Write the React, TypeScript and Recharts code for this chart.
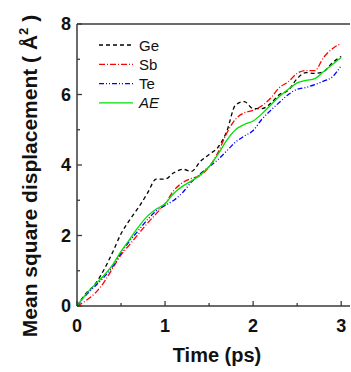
import React from "react";
import { LineChart, Line, XAxis, YAxis, ReferenceLine } from "recharts";

const times = [0, 0.1, 0.2, 0.3, 0.4, 0.5, 0.6, 0.7, 0.8, 0.9, 1.0, 1.1, 1.2, 1.3, 1.4, 1.5, 1.6, 1.7, 1.8, 1.9, 2.0, 2.1, 2.2, 2.3, 2.4, 2.5, 2.6, 2.7, 2.8, 2.9, 3.0];
const ge = [0, 0.35, 0.6, 1.0, 1.5, 2.05, 2.45, 2.8, 3.2, 3.6, 3.6, 3.78, 3.88, 3.82, 4.1, 4.3, 4.5, 4.95, 5.7, 5.8, 5.6, 5.6, 5.75, 6.0, 6.12, 6.45, 6.62, 6.6, 6.65, 6.9, 7.08];
const sb = [0, 0.15, 0.35, 0.65, 1.05, 1.45, 1.75, 2.05, 2.35, 2.62, 2.9, 3.28, 3.5, 3.62, 3.7, 3.95, 4.35, 4.9, 5.3, 5.48, 5.55, 5.68, 5.9, 6.2, 6.36, 6.6, 6.68, 6.68, 7.05, 7.3, 7.45];
const te = [0, 0.3, 0.55, 0.8, 1.1, 1.5, 1.85, 2.15, 2.45, 2.7, 2.85, 3.0, 3.22, 3.52, 3.75, 3.95, 4.15, 4.4, 4.65, 4.82, 4.98, 5.3, 5.55, 5.78, 6.0, 6.15, 6.2, 6.28, 6.38, 6.5, 6.82];
const ae = [0, 0.33, 0.6, 0.85, 1.15, 1.55, 1.9, 2.25, 2.55, 2.75, 2.9, 3.2, 3.4, 3.55, 3.72, 3.95, 4.3, 4.7, 5.0, 5.15, 5.25, 5.45, 5.7, 5.95, 6.15, 6.33, 6.4, 6.45, 6.65, 6.85, 7.05];

const xTicks = [0, 0.5, 1, 1.5, 2, 2.5, 3];
const yTicks = [0, 1, 2, 3, 4, 5, 6, 7, 8];

const seriesNames = ["Ge", "Sb", "Te", "AE"];
const seriesColors = ["#000000", "#ff0000", "#0000ff", "#00e000"];
const seriesDash = ["4 3", "6 2 1 2", "5 2 1 2 1 2", ""];

const data = times.map((t, i) => ({ t, Ge: ge[i], Sb: sb[i], Te: te[i], AE: ae[i] }));

const FONT = "Arial, 'Liberation Sans', sans-serif";
const AXIS = "#3a3a3a";

const YTick = (props: any) => {
  const { x, y, payload } = props;
  const major = payload.value % 2 === 0;
  return (
    <g>
      <line x1={x} x2={x + (major ? 5 : 3)} y1={y} y2={y} stroke={AXIS} strokeWidth={1.3} />
      {major && (
        <text x={x - 6} y={y} dy={6} textAnchor="end" fontFamily={FONT} fontWeight="bold" fontSize={18} fill="#111">
          {payload.value}
        </text>
      )}
    </g>
  );
};

const XTick = (props: any) => {
  const { x, y, payload } = props;
  const major = Number.isInteger(payload.value);
  return (
    <g>
      <line x1={x} x2={x} y1={y} y2={y - (major ? 5 : 3)} stroke={AXIS} strokeWidth={1.3} />
      {major && (
        <text x={x} y={y + 26} textAnchor="middle" fontFamily={FONT} fontWeight="bold" fontSize={18} fill="#111">
          {payload.value}
        </text>
      )}
    </g>
  );
};

const LEG_X = 99;
const LEG_Y = 45;
const LEG_STEP = 19.3;

export default function App() {
  return (
    <div style={{ position: "absolute", left: 0, top: 0, width: 351, height: 372, background: "#fff" }}>
      <LineChart width={351} height={372} data={data} margin={{ top: 24, right: 1, left: 0, bottom: 0 }}>
        <XAxis
          dataKey="t"
          type="number"
          domain={[0, 3.1]}
          ticks={xTicks}
          tick={<XTick />}
          tickSize={0}
          tickMargin={0}
          height={66}
          axisLine={{ stroke: AXIS, strokeWidth: 1.5 }}
          tickLine={false}
          allowDataOverflow
        />
        <YAxis
          type="number"
          domain={[0, 8]}
          ticks={yTicks}
          tick={<YTick />}
          tickSize={0}
          tickMargin={0}
          width={77}
          axisLine={{ stroke: AXIS, strokeWidth: 1.5 }}
          tickLine={false}
        />
        <ReferenceLine y={8} stroke={AXIS} strokeWidth={1.5} />
        {seriesNames.map((n, i) => (
          <Line
            key={n}
            dataKey={n}
            type="monotone"
            stroke={seriesColors[i]}
            strokeWidth={1.3}
            strokeDasharray={seriesDash[i] || undefined}
            dot={false}
            isAnimationActive={false}
          />
        ))}
        <g>
          {seriesNames.map((n, i) => (
            <g key={n}>
              <line
                x1={LEG_X}
                x2={LEG_X + 34}
                y1={LEG_Y + i * LEG_STEP}
                y2={LEG_Y + i * LEG_STEP}
                stroke={seriesColors[i]}
                strokeWidth={1.3}
                strokeDasharray={seriesDash[i] || undefined}
              />
              <text
                x={LEG_X + 40}
                y={LEG_Y + i * LEG_STEP + 5.5}
                fontFamily={FONT}
                fontSize={15}
                fontStyle={n === "AE" ? "italic" : "normal"}
                fill="#111"
              >
                {n}
              </text>
            </g>
          ))}
        </g>
        <text x={217} y={362} textAnchor="middle" fontFamily={FONT} fontWeight="bold" fontSize={20} fill="#111">
          Time (ps)
        </text>
        <text
          transform="translate(37,176) rotate(-90)"
          textAnchor="middle"
          fontFamily={FONT}
          fontWeight="bold"
          fontSize={21}
          fill="#111"
        >
          Mean square displacement ( Å<tspan dy={-9} fontSize={13}>2</tspan><tspan dy={9}> )</tspan>
        </text>
      </LineChart>
    </div>
  );
}
